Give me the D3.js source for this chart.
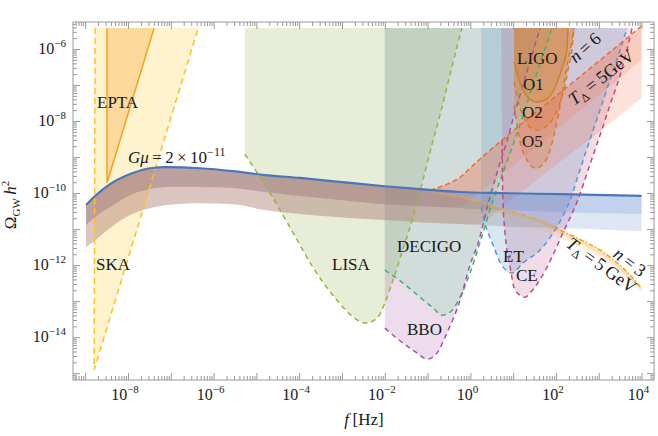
<!DOCTYPE html>
<html>
<head>
<meta charset="utf-8">
<script src="https://cdn.jsdelivr.net/npm/d3@7"></script>
<style>
  body { margin: 0; background: #fff; }
  text { font-family: "Liberation Serif", "DejaVu Serif", serif; fill: #1a1a1a; }
</style>
</head>
<body>
<svg id="chart" width="658" height="436"></svg>
<script>
// all values are log10(f / Hz), log10(Omega_GW h^2)
const TOP = -5.42;   // upper cut of the sensitivity regions

const ska  = [[-8.77, -5.42], [-8.79, -14.9], [-6.36, -5.42]];
const epta = [[-8.49, -5.42], [-8.49, -9.72], [-7.39, -5.42]];

const lisa = [[-5.27, -8.92], [-4.68, -10.0], [-4.14, -11.11], [-3.68, -12.06], [-3.12, -12.97],
  [-2.74, -13.44], [-2.46, -13.61], [-2.18, -13.47], [-2.0, -13.06], [-1.81, -12.42], [-1.58, -11.58],
  [-1.34, -10.67], [-1.11, -9.64], [-0.87, -8.53], [-0.71, -7.83], [-0.45, -6.58], [-0.2, -5.42]];
const decigo = [[-2.0, -12.14], [-1.57, -12.5], [-1.18, -12.89], [-0.87, -13.19], [-0.66, -13.39],
  [-0.48, -13.31], [-0.24, -12.89], [-0.01, -12.22], [0.22, -11.39], [0.53, -10.19], [0.76, -9.44],
  [0.97, -8.75], [1.21, -7.92], [1.44, -7.08], [1.67, -6.25], [1.91, -5.42]];
const bbo = [[-2.0, -13.75], [-1.57, -14.17], [-1.25, -14.44], [-1.01, -14.61], [-0.78, -14.44],
  [-0.55, -13.89], [-0.24, -12.97], [-0.01, -12.0], [0.18, -11.39], [0.41, -10.33], [0.64, -9.36],
  [0.86, -8.53], [1.04, -7.75], [1.25, -6.92], [1.46, -6.08], [1.63, -5.42]];
const et = [[0.25, -10.4], [0.36, -10.92], [0.53, -11.44], [0.69, -11.92], [0.86, -12.17], [0.97, -12.22],
  [1.23, -11.94], [1.63, -11.58], [2.02, -10.94], [2.33, -10.19], [2.56, -9.36], [2.79, -8.53],
  [3.03, -7.69], [3.26, -6.86], [3.5, -6.03], [3.66, -5.42]];
const ce = [[0.72, -5.42], [0.74, -8.53], [0.76, -10.19], [0.81, -11.11], [0.93, -12.06], [1.04, -12.69],
  [1.28, -12.89], [1.39, -12.78], [1.79, -12.06], [2.16, -11.11], [2.51, -10.19], [2.79, -9.22],
  [3.03, -8.39], [3.26, -7.56], [3.5, -6.72], [3.78, -5.42]];

const ligoO1 = [[1.02, -6.36], [1.11, -6.75], [1.23, -7.14], [1.39, -7.39], [1.56, -7.47], [1.74, -7.42],
  [1.91, -7.22], [2.02, -6.94], [2.14, -6.53], [2.26, -5.97], [2.28, -5.42]];
const ligoO2 = [[1.02, -6.92], [1.11, -7.42], [1.23, -7.86], [1.39, -8.17], [1.56, -8.25], [1.74, -8.17],
  [1.91, -7.97], [2.09, -7.5], [2.21, -7.0], [2.28, -6.58], [2.37, -6.03], [2.42, -5.42]];
const ligoO5 = [[1.02, -7.56], [1.09, -8.11], [1.18, -8.67], [1.32, -9.08], [1.53, -9.31], [1.74, -9.14],
  [1.86, -8.81], [1.98, -8.25], [2.12, -7.42], [2.23, -6.64], [2.33, -6.03], [2.42, -5.42]];

// cosmic string band, G mu = 2e-11 : upper edge, middle edge, lower edge
const csTop = [[-8.98, -10.33], [-8.77, -10.08], [-8.42, -9.75], [-7.95, -9.47], [-7.49, -9.31], [-7.09, -9.28],
  [-6.32, -9.31], [-5.55, -9.39], [-4.8, -9.5], [-3.98, -9.58], [-3.05, -9.69], [-2.0, -9.81], [-1.18, -9.89],
  [-0.24, -9.97], [0.69, -10.0], [2.09, -10.03], [4.0, -10.08]];
const csMid = [[-8.98, -10.89], [-8.77, -10.67], [-8.42, -10.39], [-7.95, -10.06], [-7.49, -9.89], [-7.09, -9.83],
  [-6.32, -9.83], [-5.55, -9.86], [-4.8, -9.97], [-3.98, -10.08], [-3.05, -10.19], [-2.0, -10.31], [-1.18, -10.36],
  [-0.24, -10.42], [0.69, -10.47], [2.09, -10.53], [4.0, -10.58]];
const csLow = [[-8.98, -11.5], [-8.77, -11.31], [-8.42, -10.97], [-7.95, -10.61], [-7.49, -10.42], [-7.09, -10.33],
  [-6.32, -10.28], [-5.55, -10.31], [-4.8, -10.47], [-3.98, -10.58], [-3.05, -10.67], [-2.0, -10.75], [-1.18, -10.81],
  [-0.24, -10.86], [0.69, -10.92], [2.09, -10.97], [4.0, -11.06]];

// n = 6 branch (departs from the standard band at high f)
const n6Top = [[-0.94, -9.92], [-0.71, -9.83], [-0.48, -9.72], [-0.24, -9.56], [-0.01, -9.31], [0.22, -9.06],
  [0.46, -8.81], [0.69, -8.58], [1.16, -8.11], [2.09, -7.22], [3.03, -6.31], [4.0, -5.36]];
const n6Mid = [[-0.48, -10.4], [-0.24, -10.36], [-0.01, -10.19], [0.22, -9.97], [0.69, -9.53], [1.16, -9.08],
  [2.09, -8.17], [3.03, -7.25], [4.0, -6.31]];
const n6Low = [[-0.01, -10.88], [0.22, -10.83], [0.46, -10.67], [0.69, -10.44], [1.16, -10.0], [2.09, -9.14],
  [3.03, -8.28], [4.0, -7.36]];

// n = 3 branch
const n3Top = [[-0.94, -9.93], [-0.71, -10.0], [-0.24, -10.11], [0.29, -10.28], [0.69, -10.42], [1.23, -10.61],
  [1.63, -10.75], [2.16, -11.06], [2.63, -11.33], [3.03, -11.58], [3.38, -11.89], [3.66, -12.19], [4.0, -12.64]];
const n3Mid = [[-0.24, -10.42], [0.29, -10.47], [0.93, -10.61], [1.63, -10.83], [2.16, -11.17], [2.63, -11.44],
  [3.03, -11.69], [3.38, -12.0], [3.66, -12.31], [4.0, -12.69]];
const n3Low = [[0.46, -10.89], [0.93, -10.94], [1.63, -11.03], [2.16, -11.28], [2.63, -11.56], [3.03, -11.81],
  [3.38, -12.08], [3.66, -12.39], [4.0, -12.75]];

const xLabelExp = [-8, -6, -4, -2, 0, 2, 4];
const yLabelExp = [-6, -8, -10, -12, -14];

const svg = d3.select("#chart");
const x = d3.scaleLog().domain([10 ** -9.285, 10 ** 4.29]).range([73, 654]);
const y = d3.scaleLog().domain([10 ** -15.19, 10 ** -5.25]).range([380, 22]);

const smooth = d3.line().x(d => x(10 ** d[0])).y(d => y(10 ** d[1])).curve(d3.curveMonotoneX);
const straight = d3.line().x(d => x(10 ** d[0])).y(d => y(10 ** d[1]));

// region above a sensitivity curve, closed along the top
function hull(pts, gen) {
  const a = pts[0], b = pts[pts.length - 1];
  return "M" + x(10 ** a[0]) + "," + y(10 ** TOP) + "L" + gen(pts).slice(1) +
    "L" + x(10 ** b[0]) + "," + y(10 ** TOP) + "Z";
}
function band(upper, lower) {
  return smooth(upper) + "L" + smooth(lower.slice().reverse()).slice(1) + "Z";
}
const join = (base, tail) => base.filter(d => d[0] < tail[0][0] - 0.05).concat(tail);

svg.append("clipPath").attr("id", "clip")
  .append("rect").attr("x", 73).attr("y", 22).attr("width", 581).attr("height", 358);
const plot = svg.append("g").attr("clip-path", "url(#clip)");

// detector regions
const regions = [
  {pts: ska, gen: straight, fill: "rgba(255,205,60,0.25)"},
  {pts: epta, gen: straight, fill: "rgba(248,160,40,0.3)"},
  {pts: lisa, gen: smooth, fill: "rgba(145,175,75,0.22)"},
  {pts: bbo, gen: smooth, fill: "rgba(160,80,160,0.2)"},
  {pts: decigo, gen: smooth, fill: "rgba(120,225,160,0.22)"},
  {pts: et, gen: smooth, fill: "rgba(90,160,200,0.25)"},
  {pts: ce, gen: smooth, fill: "rgba(185,85,140,0.2)"},
  {pts: ligoO5, gen: smooth, fill: "rgba(215,125,45,0.28)"},
  {pts: ligoO2, gen: smooth, fill: "rgba(215,125,45,0.28)"},
  {pts: ligoO1, gen: smooth, fill: "rgba(215,125,45,0.3)"}
];
plot.selectAll("path.region").data(regions).enter().append("path")
  .attr("class", "region")
  .attr("d", r => hull(r.pts, r.gen))
  .attr("fill", r => r.fill);

// signal bands
const bands = [
  {top: join(csTop, n3Top), mid: join(csMid, n3Mid), low: join(csLow, n3Low), c: "245,165,40", a: [0.35, 0.15]},
  {top: join(csTop, n6Top), mid: join(csMid, n6Mid), low: join(csLow, n6Low), c: "240,110,70", a: [0.35, 0.2]},
  {top: csTop, mid: csMid, low: csLow, c: "70,115,200", a: [0.33, 0.18]}
];
bands.forEach(b => {
  plot.append("path").attr("d", band(b.top, b.mid)).attr("fill", `rgba(${b.c},${b.a[0]})`);
  plot.append("path").attr("d", band(b.mid, b.low)).attr("fill", `rgba(${b.c},${b.a[1]})`);
});

// curves
const curves = [
  {pts: ska, gen: straight, c: "#ffc21a", dash: "6,4"},
  {pts: epta, gen: straight, c: "#f7a21b", dash: null},
  {pts: lisa, gen: smooth, c: "#97b43c", dash: "5,4"},
  {pts: decigo, gen: smooth, c: "#3db46d", dash: "5,4"},
  {pts: bbo, gen: smooth, c: "#a452a8", dash: "5,4"},
  {pts: et, gen: smooth, c: "#5b95cf", dash: "5,4"},
  {pts: ce.slice(1), gen: smooth, c: "#c44b7f", dash: "5,4"},
  {pts: ligoO5, gen: smooth, c: "#d77d22", dash: "5,4"},
  {pts: ligoO2, gen: smooth, c: "#d77d22", dash: "5,4"},
  {pts: ligoO1, gen: smooth, c: "#d77d22", dash: null},
  {pts: n6Top, gen: smooth, c: "#f06a35", dash: "5,3"},
  {pts: n3Top, gen: smooth, c: "#eea52a", dash: "5,2,1.5,2"},
  {pts: csTop, gen: smooth, c: "#4a76bb", dash: null, w: 2.2}
];
plot.selectAll("path.curve").data(curves).enter().append("path")
  .attr("class", "curve")
  .attr("d", c => c.gen(c.pts))
  .attr("fill", "none")
  .attr("stroke", c => c.c)
  .attr("stroke-width", c => c.w || 1.5)
  .attr("stroke-dasharray", c => c.dash);

// frame and ticks
const xLo = -9.285, xHi = 4.29, yLo = -15.19, yHi = -5.25;
function tickSets(lo, hi) {
  const major = [], minor = [];
  for (let k = Math.floor(lo); k <= Math.ceil(hi); k++) {
    major.push(10 ** k);
    for (let m = 2; m < 10; m++) minor.push(m * 10 ** k);
  }
  const inside = v => Math.log10(v) >= lo && Math.log10(v) <= hi;
  return {major: major.filter(inside), minor: minor.filter(inside)};
}
const xt = tickSets(xLo, xHi), yt = tickSets(yLo, yHi);
const sides = [
  {axis: d3.axisBottom, s: x, t: xt, tr: "translate(0,380)"},
  {axis: d3.axisTop, s: x, t: xt, tr: "translate(0,22)"},
  {axis: d3.axisLeft, s: y, t: yt, tr: "translate(73,0)"},
  {axis: d3.axisRight, s: y, t: yt, tr: "translate(654,0)"}
];
sides.forEach(sd => {
  [[sd.t.major, 7], [sd.t.minor, 4]].forEach(([vals, len]) => {
    svg.append("g").attr("transform", sd.tr)
      .call(sd.axis(sd.s).tickValues(vals).tickSize(-len).tickFormat(""))
      .call(g => g.select(".domain").remove())
      .selectAll("line").attr("stroke", "#9a9a9a");
  });
});
svg.append("rect").attr("x", 73).attr("y", 22).attr("width", 581).attr("height", 358)
  .attr("fill", "none").attr("stroke", "#9a9a9a").attr("stroke-width", 1);

// tick labels
function power(sel, e) {
  sel.append("tspan").text("10");
  sel.append("tspan").attr("dy", -7).attr("font-size", 11).text(e < 0 ? "\u2212" + (-e) : String(e));
}
xLabelExp.forEach(e => {
  svg.append("text").attr("x", x(10 ** e) - 3).attr("y", 400)
    .attr("text-anchor", "middle").attr("font-size", 16).call(power, e);
});
yLabelExp.forEach(e => {
  svg.append("text").attr("x", 66).attr("y", y(10 ** e) + 5)
    .attr("text-anchor", "end").attr("font-size", 16).call(power, e);
});

// axis titles
const xt1 = svg.append("text").attr("x", 364).attr("y", 425).attr("text-anchor", "middle").attr("font-size", 17);
xt1.append("tspan").attr("font-style", "italic").text("f");
xt1.append("tspan").text("\u2009[Hz]");
const yt1 = svg.append("text").attr("transform", "translate(16,205) rotate(-90)")
  .attr("text-anchor", "middle").attr("font-size", 17);
yt1.append("tspan").text("\u03A9");
yt1.append("tspan").attr("font-size", 11).attr("dy", 4).text("GW");
yt1.append("tspan").attr("font-style", "italic").attr("dy", -4).text("\u2009h");
yt1.append("tspan").attr("font-size", 11).attr("dy", -7).text("2");

// detector names
const names = [
  ["EPTA", 97, 108], ["SKA", 96, 270], ["LISA", 332, 270], ["DECIGO", 397, 252], ["BBO", 407, 335],
  ["ET", 503, 262], ["CE", 516, 281], ["LIGO", 517, 64], ["O1", 523, 90], ["O2", 522, 118], ["O5", 522, 147]
];
names.forEach(([t, px, py]) => {
  svg.append("text").attr("x", px).attr("y", py).attr("font-size", 17).text(t);
});

// G mu label
const gm = svg.append("text").attr("x", 128).attr("y", 163).attr("font-size", 17);
gm.append("tspan").attr("font-style", "italic").text("G\u03BC");
gm.append("tspan").text("\u2009=\u20092\u2009\u00D7\u200910");
gm.append("tspan").attr("dy", -7).attr("font-size", 12).text("\u221211");

// rotated annotations
function nLabel(cx, cy, ang, n) {
  const t = svg.append("text").attr("transform", `translate(${cx},${cy}) rotate(${ang})`)
    .attr("text-anchor", "middle").attr("font-size", 18);
  t.append("tspan").attr("font-style", "italic").text("n");
  t.append("tspan").text("\u2009=\u2009" + n);
}
function tLabel(cx, cy, ang, gev) {
  const t = svg.append("text").attr("transform", `translate(${cx},${cy}) rotate(${ang})`)
    .attr("text-anchor", "middle").attr("font-size", 18);
  t.append("tspan").attr("font-style", "italic").text("T");
  t.append("tspan").attr("font-size", 12).attr("dy", 4).text("\u0394");
  t.append("tspan").attr("dy", -4).text("\u2009=\u20095" + gev);
}
nLabel(589, 52, -42, 6);
tLabel(605, 82, -38, "GeV");
nLabel(626, 267, 37, 3);
tLabel(598, 270, 36, "\u2009GeV");
</script>
</body>
</html>
